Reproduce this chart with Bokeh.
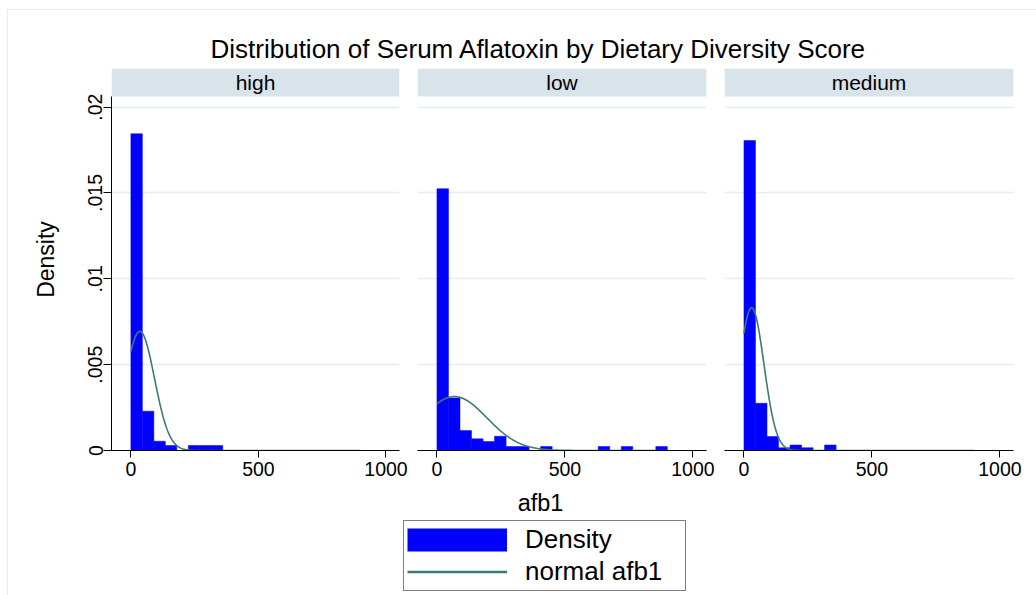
import numpy as np
from bokeh.plotting import figure
from bokeh.models import (Range1d, FixedTicker, Label, Legend, LegendItem, Grid,
                          BoxAnnotation, ColumnDataSource)
from bokeh.layouts import row, column
from bokeh.embed import file_html
from bokeh.resources import INLINE

# ---------------- data ----------------
GROUPS = ["high", "low", "medium"]
BIN_EDGES = [0, 45, 90, 135, 180, 225, 270, 315, 360, 405, 450,
             495, 540, 585, 630, 675, 720, 765, 810, 855, 900]
DENSITY_HIGH = [0.01845, 0.00229, 0.00054, 0.00029, 0.0, 0.00029, 0.00029, 0.00029, 0.0, 0.0,
                0.0, 0.0, 0.0, 0.0, 0.0, 0.0, 0.0, 0.0, 0.0, 0.0]
DENSITY_LOW = [0.01525, 0.00306, 0.00116, 0.00068, 0.00052, 0.00083, 0.00023, 0.00023, 0.0, 0.00023,
               0.0, 0.0, 0.0, 0.0, 0.00023, 0.0, 0.00023, 0.0, 0.0, 0.00023]
DENSITY_MEDIUM = [0.01806, 0.00275, 0.00081, 0.00016, 0.00032, 0.00016, 0.0, 0.00032, 0.0, 0.0,
                  0.0, 0.0, 0.0, 0.0, 0.0, 0.0, 0.0, 0.0, 0.0, 0.0]
NORMAL_MEAN = [35, 68, 30]
NORMAL_SD = [57.5, 127, 48]
AFB1_MIN = 0
AFB1_MAX = 900
Y_TICKS = [0, 0.005, 0.01, 0.015, 0.02]
Y_TICK_LABELS = ["0", ".005", ".01", ".015", ".02"]
X_TICKS = [0, 500, 1000]
X_TICK_LABELS = ["0", "500", "1000"]
TITLE = "Distribution of Serum Aflatoxin by Dietary Diversity Score"
X_LABEL = "afb1"
Y_LABEL = "Density"
LEGEND_LABELS = ["Density", "normal afb1"]

# ---------------- style ----------------
FONT = "Liberation Sans"
BAR_COLOR = "#0000ff"
CURVE_COLOR = "#3b7b72"
GRID_COLOR = "#e3eef2"
STRIP_COLOR = "#d8e3ea"
FRAME_COLOR = "#e5edf0"

X_START, X_END = -76, 1053
Y_END = 0.02225
STRIP_BOTTOM = 0.020623

densities = [DENSITY_HIGH, DENSITY_LOW, DENSITY_MEDIUM]
fig_widths = [408, 307, 321]
left_borders = [111, 9, 9]
right_borders = [9, 9, 23]

panels = []
for i, g in enumerate(GROUPS):
    p = figure(width=fig_widths[i], height=417, output_backend="svg", toolbar_location=None,
               x_range=Range1d(X_START, X_END), y_range=Range1d(0, Y_END),
               y_axis_location="left" if i == 0 else None,
               min_border_left=left_borders[i], min_border_right=right_borders[i],
               min_border_top=0, min_border_bottom=35)
    p.border_fill_color = None
    p.background_fill_color = "white"
    p.outline_line_color = None
    p.xgrid.visible = False
    if i == 0:
        p.ygrid.visible = False
    p.add_layout(Grid(dimension=1, ticker=FixedTicker(ticks=Y_TICKS[1:]),
                      grid_line_color=GRID_COLOR, grid_line_width=1.6))

    # x axis
    xa = p.xaxis[0]
    xa.ticker = FixedTicker(ticks=X_TICKS)
    xa.major_label_overrides = {t: l for t, l in zip(X_TICKS, X_TICK_LABELS)}
    xa.minor_tick_line_color = None
    xa.major_tick_out = 7
    xa.major_tick_in = 0
    xa.axis_line_color = "black"
    xa.major_tick_line_color = "black"
    xa.major_label_text_font = FONT
    xa.major_label_text_font_size = "19.5px"
    xa.major_label_text_color = "black"
    xa.major_label_standoff = 4

    if i == 0:
        ya = p.yaxis[0]
        ya.ticker = FixedTicker(ticks=Y_TICKS)
        ya.major_label_overrides = {t: l for t, l in zip(Y_TICKS, Y_TICK_LABELS)}
        ya.bounds = (0, STRIP_BOTTOM)
        ya.minor_tick_line_color = None
        ya.major_tick_out = 8
        ya.major_tick_in = 0
        ya.axis_line_color = "black"
        ya.major_tick_line_color = "black"
        ya.major_label_orientation = "vertical"
        ya.major_label_text_font = FONT
        ya.major_label_text_font_size = "19.5px"
        ya.major_label_text_color = "black"
        ya.major_label_standoff = 1
        ya.axis_label = Y_LABEL
        ya.axis_label_text_font = FONT
        ya.axis_label_text_font_size = "23px"
        ya.axis_label_text_font_style = "normal"
        ya.axis_label_text_color = "black"
        ya.axis_label_standoff = 27

    # histogram bars
    d = densities[i]
    lefts = [BIN_EDGES[k] for k in range(len(d)) if d[k] > 0]
    rights = [BIN_EDGES[k + 1] for k in range(len(d)) if d[k] > 0]
    tops = [d[k] for k in range(len(d)) if d[k] > 0]
    src = ColumnDataSource(dict(left=lefts, right=rights, top=tops, bottom=[0] * len(tops)))
    p.quad(left="left", right="right", top="top", bottom="bottom", source=src,
           fill_color=BAR_COLOR, line_color=BAR_COLOR, line_width=0.5)

    # normal density curve
    xs = np.linspace(AFB1_MIN, AFB1_MAX, 500)
    mu, sd = NORMAL_MEAN[i], NORMAL_SD[i]
    ys = np.exp(-0.5 * ((xs - mu) / sd) ** 2) / (sd * np.sqrt(2 * np.pi))
    p.line(xs, ys, line_color=CURVE_COLOR, line_width=1.6)

    # strip header
    p.add_layout(BoxAnnotation(bottom=STRIP_BOTTOM, fill_color=STRIP_COLOR, fill_alpha=1,
                               line_color=None))
    p.add_layout(Label(x=(X_START + X_END) / 2, y=(STRIP_BOTTOM + Y_END) / 2, text=g,
                       text_align="center", text_baseline="middle",
                       text_font=FONT, text_font_size="21px", text_color="black"))
    panels.append(p)

# header with the title (data units = pixels, origin at bottom-left)
header = figure(width=1036, height=68, output_backend="svg", toolbar_location=None,
                x_range=Range1d(0, 1036), y_range=Range1d(0, 68),
                x_axis_location=None, y_axis_location=None, min_border=0)
header.grid.visible = False
header.outline_line_color = None
header.border_fill_color = None
header.background_fill_color = None
header.add_layout(Label(x=538, y=20, text=TITLE, text_align="center", text_baseline="middle",
                        text_font=FONT, text_font_size="26px", text_color="black"))

# bottom: x label + legend
bottom = figure(width=1036, height=110, output_backend="svg", toolbar_location=None,
                x_range=Range1d(0, 1036), y_range=Range1d(0, 110),
                x_axis_location=None, y_axis_location=None, min_border=0)
bottom.grid.visible = False
bottom.outline_line_color = None
bottom.border_fill_color = None
bottom.background_fill_color = None
bottom.add_layout(Label(x=540, y=93, text=X_LABEL, text_align="center", text_baseline="middle",
                        text_font=FONT, text_font_size="23.5px", text_color="black"))
# legend-only renderers (their single point is NaN, so nothing is drawn in the plot)
r_bar = bottom.line([np.nan], [np.nan], line_color=BAR_COLOR, line_width=23)
r_line = bottom.line([np.nan], [np.nan], line_color=CURVE_COLOR, line_width=2.5)
legend = Legend(items=[LegendItem(label=LEGEND_LABELS[0], renderers=[r_bar]),
                       LegendItem(label=LEGEND_LABELS[1], renderers=[r_line])],
                location=(403, 4), orientation="vertical",
                glyph_width=100, glyph_height=29, label_standoff=18, label_width=157,
                padding=3, spacing=1, margin=0,
                label_text_font=FONT, label_text_font_size="26px", label_text_color="black",
                border_line_color="black", border_line_width=1,
                background_fill_color="white", background_fill_alpha=1)
bottom.add_layout(legend, "center")

root = column(header, row(*panels), bottom,
              styles={"background":
                      f"linear-gradient({FRAME_COLOR},{FRAME_COLOR}) 7px 9px / 1px 100% no-repeat, "
                      f"linear-gradient({FRAME_COLOR},{FRAME_COLOR}) 7px 9px / 100% 1px no-repeat"})

open("out.html", "w").write(file_html(root, INLINE))
